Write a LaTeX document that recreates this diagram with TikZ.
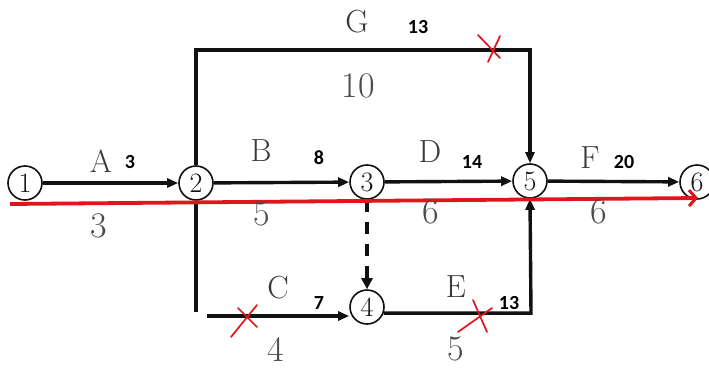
\documentclass[tikz,border=0pt]{standalone}
\usepackage{fontspec}
\newfontfamily\boldnum{Carlito}
\usetikzlibrary{arrows.meta}
\definecolor{inkc}{HTML}{111111}
\definecolor{labc}{HTML}{3A3A3A}
\definecolor{durc}{HTML}{4A4A4A}
\definecolor{critc}{HTML}{E0161C}
\tikzset{
  ev/.style={circle,draw=inkc,line width=1.6pt,minimum size=34pt,inner sep=0pt,
    font=\fontsize{28}{28}\selectfont,text=inkc},
  line/.style={draw=inkc,line width=3.4pt},
  act/.style={line,-{Triangle[length=11pt,width=9pt]}},
  dashact/.style={draw=inkc,line width=3.4pt,dash pattern=on 12pt off 10pt,
    -{Triangle[length=11pt,width=11pt]}},
  crit/.style={draw=critc,line width=3.8pt,-{Straight Barb[length=7pt,width=16pt,line width=3pt]}},
  xmark/.style={draw=critc,line width=1.7pt,line cap=round},
  letter/.style={font=\fontsize{32}{32}\selectfont,text=labc,inner sep=0pt},
  dur/.style={font=\fontsize{36}{36}\selectfont,text=durc,inner sep=0pt},
  ef/.style={font=\boldnum\bfseries\fontsize{20}{20}\selectfont,text=black,inner sep=0pt}
}
\begin{document}
\begin{tikzpicture}[x=1pt,y=-1pt]
\useasboundingbox (0,0) rectangle (709,367);
\fill[white] (0,0) rectangle (709,367);

% events
\node[ev] (n1) at (25,183) {1};
\node[ev] (n2) at (196,183) {2};
\node[ev] (n3) at (367,182) {3};
\node[ev] (n4) at (367,307) {4};
\node[ev] (n5) at (530,181) {5};
\node[ev] (n6) at (697,182) {6};

% helper coordinates
\coordinate (gc) at (530,50);
\coordinate (cb) at (196,312);
\coordinate (cs) at (207,316);
\coordinate (ee) at (531,313);
\coordinate (rs) at (10,204);
\coordinate (re) at (698,198);

% activities
\draw[act] (n1) -- (n2);
\draw[act] (n2) -- (n3);
\draw[act] (n3) -- (n5);
\draw[act] (n5) -- (n6);
\draw[act] (n2.north) |- (gc) -- (n5.north);
\draw[line] (n2.south) -- (cb);
\draw[act] (cs) -- (cs -| n4.west);
\draw[act] (n4.-20) -- (n4.-20 -| ee) -- (n5.south);
\draw[dashact] (n3.south) -- (n4.north);

% critical path
\draw[crit] (rs) -- (re);

% activity names
\node[letter] (lA) at (101,161) {A};
\node[letter] (lB) at (261,151) {B};
\node[letter] (lC) at (278,288) {C};
\node[letter] (lD) at (430,152) {D};
\node[letter] (lE) at (456,287) {E};
\node[letter] (lF) at (590,158) {F};
\node[letter] (lG) at (357,22) {G};

% durations
\node[dur] (dA) at (99,226) {3};
\node[dur] (dB) at (262,214) {5};
\node[dur] (dC) at (276,349) {4};
\node[dur] (dD) at (431,212) {6};
\node[dur] (dE) at (456,349) {5};
\node[dur] (dF) at (599,212) {6};
\node[dur] (dG) at (358,86) {10};

% earliest finish annotations
\node[ef] (eA) at (130,162) {3};
\node[ef] (eB) at (319,158) {8};
\node[ef] (eC) at (319,303) {7};
\node[ef] (eD) at (472,162) {14};
\node[ef] (eE) at (509,303) {13};
\node[ef] (eF) at (624,162) {20};
\node[ef] (eG) at (418,27) {13};

% red crosses
\draw[xmark] (478,35) -- (500,58) (500,36) -- (488,62);
\draw[xmark] (231,337) -- (257,305) (238,308) -- (257,327);
\draw[xmark] (458,332) -- (492,308) (473,300) -- (487,332);
\end{tikzpicture}
\end{document}
